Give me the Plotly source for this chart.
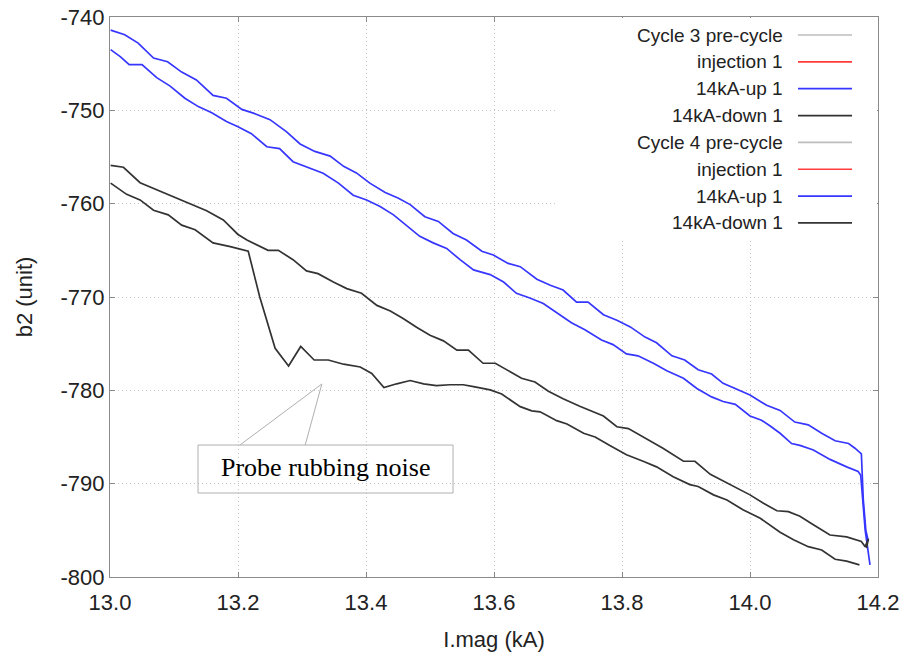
import plotly.graph_objects as go

# ---------------- data ----------------
c3_up_x = [13.001, 13.023, 13.044, 13.068, 13.090, 13.112, 13.135, 13.161, 13.182, 13.206,
           13.224, 13.250, 13.276, 13.297, 13.320, 13.344, 13.365, 13.385, 13.406, 13.430,
           13.450, 13.469, 13.492, 13.513, 13.536, 13.557, 13.581, 13.599, 13.622, 13.641,
           13.667, 13.688, 13.708, 13.729, 13.747, 13.771, 13.792, 13.813, 13.836, 13.854,
           13.878, 13.898, 13.919, 13.940, 13.958, 13.979, 14.000, 14.026, 14.047, 14.070,
           14.091, 14.112, 14.133, 14.154, 14.164, 14.174, 14.177, 14.181, 14.185]
c3_up_y = [-741.4, -741.9, -742.8, -744.4, -744.8, -745.9, -746.75, -748.4, -748.7, -749.9,
           -750.3, -751.0, -752.3, -753.6, -754.4, -754.9, -756.0, -756.7, -757.8, -758.8,
           -759.4, -760.1, -761.4, -761.9, -763.2, -763.9, -765.1, -765.5, -766.4, -766.75,
           -768.1, -768.75, -769.25, -770.55, -770.55, -771.9, -772.5, -773.2, -774.3, -774.9,
           -776.3, -776.75, -777.8, -778.25, -779.25, -779.9, -780.5, -781.6, -782.15, -783.4,
           -783.7, -784.6, -785.4, -785.7, -786.2, -786.8, -791.7, -795.0, -796.2]

c4_up_x = [13.001, 13.016, 13.030, 13.050, 13.073, 13.094, 13.117, 13.138, 13.159, 13.182,
           13.200, 13.221, 13.245, 13.265, 13.286, 13.318, 13.333, 13.357, 13.380, 13.401,
           13.422, 13.443, 13.464, 13.484, 13.505, 13.526, 13.547, 13.568, 13.594, 13.615,
           13.635, 13.656, 13.677, 13.700, 13.721, 13.742, 13.768, 13.786, 13.807, 13.825,
           13.849, 13.870, 13.896, 13.917, 13.940, 13.958, 13.977, 14.000, 14.018, 14.031,
           14.047, 14.065, 14.078, 14.099, 14.125, 14.151, 14.169, 14.173, 14.180, 14.1875]
c4_up_y = [-743.5, -744.25, -745.1, -745.1, -746.5, -747.4, -748.7, -749.6, -750.25, -751.2,
           -751.75, -752.5, -753.9, -754.1, -755.5, -756.4, -756.75, -757.8, -759.1, -759.6,
           -760.3, -761.2, -762.4, -763.5, -764.2, -764.8, -766.0, -767.1, -767.6, -768.4,
           -769.6, -770.1, -770.7, -771.75, -772.75, -773.5, -774.6, -775.1, -776.1, -776.3,
           -777.1, -777.9, -778.7, -779.8, -780.7, -781.2, -781.5, -782.75, -783.2, -783.8,
           -784.6, -785.7, -785.9, -786.4, -787.4, -788.2, -788.7, -789.1, -795.0, -798.7]

c3_down_x = [13.001, 13.021, 13.047, 13.073, 13.099, 13.125, 13.151, 13.177, 13.200, 13.214,
             13.247, 13.263, 13.286, 13.307, 13.325, 13.349, 13.370, 13.393, 13.417, 13.438,
             13.458, 13.479, 13.500, 13.521, 13.542, 13.560, 13.583, 13.602, 13.622, 13.643,
             13.664, 13.685, 13.708, 13.734, 13.771, 13.792, 13.810, 13.833, 13.864, 13.896,
             13.914, 13.938, 13.969, 14.000, 14.021, 14.042, 14.060, 14.078, 14.099, 14.125,
             14.151, 14.174, 14.180, 14.185, 14.182]
c3_down_y = [-755.9, -756.1, -757.75, -758.5, -759.25, -759.95, -760.75, -761.75, -763.3, -763.9,
             -765.0, -765.0, -766.0, -767.2, -767.5, -768.4, -769.1, -769.6, -770.9, -771.5,
             -772.3, -773.25, -774.1, -774.7, -775.7, -775.7, -777.1, -777.1, -777.9, -778.7,
             -779.1, -780.1, -780.9, -781.7, -782.75, -783.9, -784.1, -785.0, -786.2, -787.6,
             -787.6, -789.0, -790.1, -791.2, -792.1, -792.9, -793.0, -793.5, -794.4, -795.5,
             -795.7, -796.2, -796.75, -795.9, -796.9]

c4_down_x = [13.001, 13.026, 13.047, 13.068, 13.091, 13.112, 13.133, 13.161, 13.188, 13.216,
             13.234, 13.258, 13.279, 13.298, 13.319, 13.341, 13.365, 13.391, 13.409, 13.428,
             13.448, 13.469, 13.490, 13.510, 13.531, 13.552, 13.568, 13.594, 13.612, 13.641,
             13.659, 13.672, 13.698, 13.714, 13.740, 13.758, 13.781, 13.807, 13.833, 13.854,
             13.880, 13.906, 13.919, 13.943, 13.964, 13.989, 14.016, 14.047, 14.068, 14.091,
             14.112, 14.133, 14.151, 14.171]
c4_down_y = [-757.8, -759.0, -759.6, -760.7, -761.2, -762.3, -762.8, -764.2, -764.6, -765.1,
             -770.0, -775.5, -777.4, -775.3, -776.75, -776.75, -777.2, -777.5, -778.2, -779.7,
             -779.3, -778.95, -779.3, -779.5, -779.4, -779.4, -779.6, -779.95, -780.4, -781.75,
             -782.2, -782.3, -783.25, -783.6, -784.6, -785.0, -785.9, -786.9, -787.6, -788.2,
             -789.25, -790.1, -790.3, -791.2, -791.75, -792.8, -793.7, -795.2, -796.0, -796.75,
             -797.1, -798.1, -798.3, -798.7]

legend_names = ["Cycle 3 pre-cycle", "injection 1", "14kA-up 1", "14kA-down 1",
                "Cycle 4 pre-cycle", "injection 1", "14kA-up 1", "14kA-down 1"]
legend_colors = ["#bdbdbd", "#ff3b3b", "#3636ff", "#333333",
                 "#bdbdbd", "#ff3b3b", "#3636ff", "#333333"]

x_ticks = [13.0, 13.2, 13.4, 13.6, 13.8, 14.0, 14.2]
y_ticks = [-800, -790, -780, -770, -760, -750, -740]

annotation_text = "Probe rubbing noise"

BLUE = "#3636ff"
BLACK = "#333333"

# ---------------- figure ----------------
fig = go.Figure()
series = [
    ("Cycle 3 14kA-up 1", c3_up_x, c3_up_y, BLUE),
    ("Cycle 4 14kA-up 1", c4_up_x, c4_up_y, BLUE),
    ("Cycle 3 14kA-down 1", c3_down_x, c3_down_y, BLACK),
    ("Cycle 4 14kA-down 1", c4_down_x, c4_down_y, BLACK),
]
for name, xs, ys, col in series:
    fig.add_trace(go.Scatter(x=xs, y=ys, mode="lines", name=name,
                             line=dict(color=col, width=1.7), showlegend=False))

FONT = "Liberation Sans, Arial, sans-serif"
L, R, T, B = 110, 23, 17, 80
W, H = 901, 657
pw, ph = W - L - R, H - T - B

def px2paper_y(py):
    return 1 - (py - T) / ph

def px2paper_x(px):
    return (px - L) / pw

shapes = []
annotations = []

# white legend backdrop (hides grid)
shapes.append(dict(type="rect", xref="paper", yref="paper", layer="above",
                   x0=px2paper_x(555), x1=px2paper_x(877), y0=px2paper_y(238), y1=px2paper_y(18),
                   fillcolor="white", line=dict(width=0)))
for i, (nm, col) in enumerate(zip(legend_names, legend_colors)):
    py = 35 + 26.85 * i
    yy = px2paper_y(py)
    shapes.append(dict(type="line", xref="paper", yref="paper", layer="above",
                       x0=px2paper_x(798), x1=px2paper_x(852), y0=yy, y1=yy,
                       line=dict(color=col, width=1.7)))
    annotations.append(dict(xref="paper", yref="paper", x=px2paper_x(785), y=yy,
                            xanchor="right", yanchor="middle", text=nm, showarrow=False,
                            font=dict(family=FONT, size=19, color="#222")))

# callout
CALL = "#b0b0b0"
shapes.append(dict(type="rect", xref="x", yref="y", layer="above",
                   x0=13.1375, x1=13.536, y0=-791.0, y1=-785.86,
                   line=dict(color=CALL, width=1), fillcolor="rgba(0,0,0,0)"))
shapes.append(dict(type="path", xref="x", yref="y", layer="above",
                   path="M 13.203 -785.86 L 13.331 -779.32 L 13.305 -785.86",
                   line=dict(color=CALL, width=1)))
annotations.append(dict(xref="x", yref="y", x=13.336, y=-788.3, xanchor="center", yanchor="middle",
                        text=annotation_text, showarrow=False,
                        font=dict(family="Liberation Serif, Times New Roman, serif", size=26, color="black")))

axis_common = dict(showline=True, linecolor="#8a8a8a", linewidth=1, mirror="allticks",
                   ticks="inside", ticklen=5, tickcolor="#8a8a8a", automargin=False,
                   showgrid=True, gridcolor="#c4c4c4", griddash="1px,3px", gridwidth=1,
                   zeroline=False, tickfont=dict(family=FONT, size=22, color="#222"))

fig.update_layout(
    width=W, height=H,
    margin=dict(l=L, r=R, t=T, b=B, autoexpand=False),
    paper_bgcolor="white", plot_bgcolor="white",
    showlegend=False,
    shapes=shapes, annotations=annotations,
    xaxis=dict(range=[13.0, 14.2], tickvals=x_ticks, ticktext=[f"{v:.1f}" for v in x_ticks],
               title=dict(text="I.mag (kA)", font=dict(family=FONT, size=22, color="#222"), standoff=17),
               ticklabelstandoff=6,
               **axis_common),
    yaxis=dict(range=[-800, -740], tickvals=y_ticks, ticktext=[str(v) for v in y_ticks],
               title=dict(text="b2 (unit)", font=dict(family=FONT, size=22, color="#222"), standoff=21),
               **axis_common),
)

fig.write_html("out.html")
